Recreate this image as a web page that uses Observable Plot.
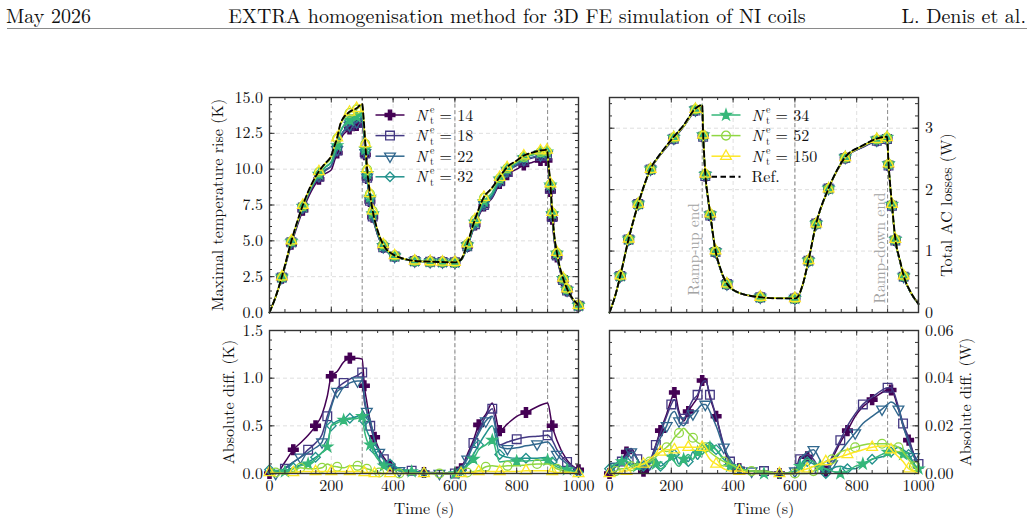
<!DOCTYPE html>
<html>
<head>
<meta charset="utf-8">
<script src="https://cdn.jsdelivr.net/npm/d3@7"></script>
<script src="https://cdn.jsdelivr.net/npm/@observablehq/plot@0.6"></script>
<style>
  body { margin: 0; background: #fff; }
  #page { position: relative; width: 1034px; height: 523px; font-family: 'Latin Modern Roman', 'Liberation Serif', serif; color: #111; }
  .hdr { position: absolute; top: 2px; font-size: 20px; line-height: 26px; white-space: nowrap; }
  .rule { position: absolute; left: 7px; right: 7px; top: 28px; border-top: 1px solid #8a8a8a; }
  .panel { position: absolute; }
  .panel svg { overflow: visible; }
</style>
</head>
<body>
<div id="page">
  <div class="hdr" style="left:6px">May 2026</div>
  <div class="hdr" style="left:0;width:1034px;text-align:center">EXTRA homogenisation method for 3D FE simulation of NI coils</div>
  <div class="hdr" style="right:8px">L. Denis et al.</div>
  <div class="rule"></div>
</div>
<script>
// ---- series definitions -------------------------------------------------
const seriesN = [14, 18, 22, 32, 34, 52, 150];
const eventTimes = [300, 600, 900];

// ---- maximal temperature rise (K) ---------------------------------------
const timeTemp = [0, 20, 40, 71, 108, 135, 160, 180, 200, 210, 219, 230, 259, 282, 300, 305, 310, 316, 325, 334, 350, 368, 405, 435, 470, 520, 560, 600, 620, 640, 665, 694, 720, 745, 769, 800, 823, 850, 877, 898, 903, 909, 915, 922, 930, 936, 950, 963, 980, 1000];
const tempRef = [0, 1.1, 2.5, 5.0, 7.5, 8.9, 9.85, 10.4, 10.95, 11.6, 12.2, 13.2, 14.0, 14.25, 14.55, 13.4, 11.8, 10.0, 8.3, 7.1, 5.7, 4.75, 3.98, 3.75, 3.6, 3.55, 3.52, 3.5, 3.7, 4.8, 6.5, 8.05, 8.7, 9.45, 10.14, 10.6, 10.95, 11.15, 11.3, 11.35, 10.3, 9.0, 7.0, 5.3, 4.2, 3.5, 2.4, 1.65, 1.0, 0.5];
const temp14 = [0, 1.1, 2.4, 4.77, 7.13, 8.45, 9.3, 9.68, 9.95, 10.55, 11.13, 12.08, 12.8, 13.05, 13.35, 12.4, 11.0, 9.35, 7.75, 6.65, 5.4, 4.55, 3.93, 3.73, 3.59, 3.54, 3.52, 3.5, 3.65, 4.6, 6.1, 7.43, 7.96, 9.0, 9.62, 10.0, 10.3, 10.47, 10.6, 10.61, 9.65, 8.45, 6.5, 4.9, 3.88, 3.23, 2.2, 1.51, 0.92, 0.46];
const temp18 = [0, 1.1, 2.45, 4.9, 7.33, 8.62, 9.47, 9.88, 10.23, 10.8, 11.31, 12.27, 13.02, 13.22, 13.49, 12.55, 11.1, 9.4, 7.8, 6.7, 5.42, 4.55, 3.9, 3.72, 3.59, 3.54, 3.52, 3.5, 3.65, 4.62, 6.15, 7.5, 8.02, 9.15, 9.81, 10.25, 10.58, 10.77, 10.91, 10.95, 9.93, 8.65, 6.67, 5.02, 3.98, 3.32, 2.26, 1.54, 0.94, 0.47];
const temp22 = [0, 1.1, 2.45, 4.9, 7.33, 8.65, 9.52, 9.95, 10.25, 10.82, 11.35, 12.32, 13.05, 13.28, 13.58, 12.6, 11.14, 9.44, 7.84, 6.74, 5.45, 4.58, 3.91, 3.73, 3.59, 3.54, 3.52, 3.5, 3.65, 4.65, 6.2, 7.55, 8.1, 9.17, 9.88, 10.33, 10.66, 10.84, 10.98, 11.02, 10.0, 8.73, 6.75, 5.1, 4.04, 3.36, 2.29, 1.56, 0.95, 0.48];
const temp32 = [0, 1.1, 2.47, 4.95, 7.4, 8.75, 9.65, 10.14, 10.5, 11.1, 11.65, 12.64, 13.42, 13.65, 13.92, 12.8, 11.3, 9.58, 7.97, 6.85, 5.53, 4.63, 3.93, 3.73, 3.59, 3.54, 3.52, 3.5, 3.67, 4.68, 6.25, 7.65, 8.2, 9.25, 9.97, 10.45, 10.8, 10.99, 11.13, 11.18, 10.16, 8.88, 6.9, 5.22, 4.13, 3.44, 2.35, 1.61, 0.97, 0.49];
const temp34 = [0, 1.1, 2.47, 4.95, 7.4, 8.75, 9.65, 10.12, 10.5, 11.08, 11.65, 12.64, 13.43, 13.67, 13.95, 12.9, 11.4, 9.7, 8.05, 6.9, 5.57, 4.65, 3.94, 3.73, 3.59, 3.55, 3.52, 3.5, 3.68, 4.7, 6.3, 7.75, 8.35, 9.33, 10.01, 10.47, 10.82, 11.01, 11.16, 11.21, 10.18, 8.9, 6.92, 5.23, 4.14, 3.45, 2.36, 1.62, 0.98, 0.49];
const temp52 = [0, 1.1, 2.48, 4.97, 7.43, 8.84, 9.8, 10.32, 10.85, 11.52, 12.13, 13.14, 13.92, 14.17, 14.48, 13.35, 11.76, 9.97, 8.28, 7.09, 5.7, 4.75, 3.98, 3.75, 3.6, 3.55, 3.52, 3.5, 3.69, 4.78, 6.47, 8.0, 8.63, 9.37, 10.06, 10.52, 10.86, 11.05, 11.2, 11.25, 10.22, 8.94, 6.95, 5.26, 4.17, 3.48, 2.38, 1.64, 0.99, 0.5];
const temp150 = [0, 1.1, 2.5, 5.0, 7.49, 8.89, 9.84, 10.39, 10.94, 11.59, 12.19, 13.19, 13.99, 14.24, 14.54, 13.39, 11.79, 9.99, 8.3, 7.1, 5.7, 4.75, 3.98, 3.75, 3.6, 3.55, 3.52, 3.5, 3.7, 4.8, 6.49, 8.04, 8.68, 9.43, 10.12, 10.58, 10.93, 11.13, 11.28, 11.33, 10.29, 8.99, 6.99, 5.3, 4.2, 3.5, 2.4, 1.65, 1.0, 0.5];
const markTimesTemp = [40, 71, 108, 160, 219, 259, 282, 310, 316, 325, 334, 368, 405, 470, 520, 560, 600, 640, 665, 694, 745, 769, 823, 877, 898, 909, 915, 930, 950, 963, 1000];

// ---- total AC losses (W) ------------------------------------------------
const timeLoss = [0, 20, 35, 62, 93, 133, 170, 208, 240, 278, 300, 303, 306, 310, 318, 326, 343, 360, 380, 420, 488, 550, 600, 610, 625, 644, 669, 709, 763, 820, 865, 898, 903, 908, 914, 925, 940, 952, 975, 1000];
const lossRef = [0, 0.3, 0.6, 1.2, 1.77, 2.34, 2.62, 2.86, 3.05, 3.32, 3.38, 2.9, 2.6, 2.26, 1.9, 1.61, 1.01, 0.7, 0.47, 0.32, 0.25, 0.23, 0.23, 0.26, 0.45, 0.85, 1.45, 2.02, 2.53, 2.72, 2.83, 2.86, 2.43, 2.1, 1.77, 1.2, 0.85, 0.6, 0.33, 0.14];
const loss14 = [0, 0.298, 0.595, 1.19, 1.766, 2.33, 2.6, 2.827, 3.028, 3.288, 3.341, 2.86, 2.56, 2.222, 1.865, 1.578, 0.986, 0.685, 0.462, 0.318, 0.249, 0.23, 0.23, 0.257, 0.443, 0.843, 1.447, 2.018, 2.516, 2.692, 2.797, 2.825, 2.394, 2.065, 1.737, 1.173, 0.83, 0.585, 0.321, 0.136];
const loss18 = [0, 0.298, 0.595, 1.19, 1.765, 2.33, 2.602, 2.829, 3.027, 3.287, 3.342, 2.861, 2.561, 2.223, 1.866, 1.579, 0.986, 0.686, 0.463, 0.318, 0.249, 0.23, 0.23, 0.256, 0.442, 0.843, 1.447, 2.017, 2.515, 2.691, 2.796, 2.824, 2.394, 2.064, 1.736, 1.172, 0.83, 0.584, 0.321, 0.136];
const loss22 = [0, 0.298, 0.596, 1.191, 1.767, 2.332, 2.605, 2.835, 3.03, 3.295, 3.351, 2.871, 2.571, 2.233, 1.874, 1.586, 0.99, 0.689, 0.464, 0.319, 0.249, 0.23, 0.229, 0.255, 0.441, 0.84, 1.444, 2.019, 2.522, 2.699, 2.805, 2.831, 2.4, 2.071, 1.742, 1.176, 0.832, 0.587, 0.323, 0.136];
const loss32 = [0, 0.296, 0.595, 1.197, 1.768, 2.335, 2.614, 2.852, 3.043, 3.311, 3.37, 2.888, 2.587, 2.247, 1.887, 1.599, 1.0, 0.694, 0.466, 0.319, 0.25, 0.23, 0.229, 0.256, 0.446, 0.845, 1.448, 2.02, 2.527, 2.716, 2.824, 2.852, 2.42, 2.089, 1.76, 1.19, 0.842, 0.592, 0.326, 0.138];
const loss34 = [0, 0.296, 0.595, 1.196, 1.767, 2.336, 2.616, 2.853, 3.044, 3.311, 3.372, 2.89, 2.59, 2.25, 1.89, 1.6, 1.0, 0.694, 0.467, 0.319, 0.25, 0.23, 0.229, 0.257, 0.444, 0.844, 1.448, 2.018, 2.53, 2.716, 2.824, 2.851, 2.421, 2.091, 1.761, 1.191, 0.842, 0.593, 0.325, 0.138];
const loss52 = [0, 0.299, 0.598, 1.197, 1.766, 2.334, 2.611, 2.847, 3.031, 3.307, 3.368, 2.889, 2.59, 2.252, 1.894, 1.604, 1.005, 0.696, 0.467, 0.319, 0.25, 0.23, 0.23, 0.26, 0.45, 0.849, 1.446, 2.015, 2.521, 2.708, 2.817, 2.848, 2.418, 2.088, 1.759, 1.19, 0.843, 0.594, 0.327, 0.139];
const loss150 = [0, 0.3, 0.599, 1.198, 1.767, 2.332, 2.611, 2.85, 3.039, 3.309, 3.369, 2.891, 2.593, 2.255, 1.897, 1.607, 1.007, 0.698, 0.469, 0.319, 0.25, 0.23, 0.23, 0.26, 0.448, 0.847, 1.446, 2.014, 2.522, 2.71, 2.819, 2.849, 2.42, 2.091, 1.762, 1.193, 0.847, 0.597, 0.329, 0.14];
const markTimesLoss = [35, 62, 93, 133, 208, 278, 303, 310, 326, 343, 380, 488, 600, 644, 669, 709, 763, 865, 898, 903, 914, 925, 952];

// ---- absolute difference to the reference, temperature (K) -------------
const timeDiffK = [0, 20, 50, 77, 100, 125, 149, 170, 187, 200, 219, 240, 260, 285, 300, 307, 315, 326, 340, 355, 370, 390, 420, 460, 500, 550, 600, 620, 640, 660, 677, 700, 721, 745, 770, 800, 830, 866, 900, 915, 930, 963, 1000];
const diffK14 = [0, 0, 0.12, 0.25, 0.32, 0.4, 0.5, 0.62, 0.81, 1.02, 1.07, 1.17, 1.21, 1.21, 1.2, 0.92, 0.75, 0.55, 0.38, 0.25, 0.17, 0.08, 0.03, 0.01, 0.01, 0, 0, 0.05, 0.2, 0.35, 0.51, 0.62, 0.74, 0.45, 0.52, 0.6, 0.64, 0.7, 0.74, 0.5, 0.35, 0.14, 0.04];
const diffK18 = [0.02, 0, 0.05, 0.12, 0.17, 0.25, 0.32, 0.41, 0.6, 0.72, 0.89, 0.95, 0.99, 1.03, 1.06, 0.75, 0.65, 0.5, 0.35, 0.23, 0.15, 0.1, 0.04, 0.03, 0.01, 0.01, 0, 0.05, 0.18, 0.32, 0.45, 0.6, 0.68, 0.3, 0.33, 0.36, 0.38, 0.39, 0.4, 0.35, 0.25, 0.12, 0.03];
const diffK22 = [0.02, 0, 0.06, 0.12, 0.17, 0.22, 0.27, 0.33, 0.55, 0.7, 0.86, 0.9, 0.95, 0.97, 0.97, 0.8, 0.65, 0.56, 0.35, 0.22, 0.14, 0.08, 0.03, 0.02, 0.01, 0, 0, 0.05, 0.15, 0.3, 0.42, 0.55, 0.6, 0.28, 0.26, 0.27, 0.29, 0.31, 0.33, 0.28, 0.2, 0.1, 0.02];
const diffK32 = [0.04, 0.02, 0.03, 0.06, 0.09, 0.12, 0.17, 0.22, 0.3, 0.5, 0.55, 0.57, 0.58, 0.6, 0.63, 0.55, 0.45, 0.37, 0.25, 0.15, 0.1, 0.1, 0.05, 0.02, 0.01, 0, 0, 0.03, 0.1, 0.2, 0.3, 0.42, 0.5, 0.2, 0.17, 0.16, 0.16, 0.16, 0.17, 0.12, 0.09, 0.05, 0.01];
const diffK34 = [0.05, 0.03, 0.02, 0.05, 0.08, 0.1, 0.15, 0.22, 0.28, 0.5, 0.53, 0.56, 0.57, 0.58, 0.6, 0.45, 0.35, 0.3, 0.2, 0.13, 0.08, 0.05, 0.03, 0.02, 0, 0, 0, 0.02, 0.08, 0.15, 0.25, 0.3, 0.35, 0.12, 0.13, 0.13, 0.13, 0.14, 0.14, 0.1, 0.07, 0.04, 0.01];
const diffK52 = [0.02, 0.01, 0, 0.02, 0.06, 0.05, 0.05, 0.06, 0.1, 0.08, 0.07, 0.06, 0.08, 0.08, 0.07, 0.06, 0.05, 0.04, 0.02, 0.01, 0, 0, 0, 0, 0, 0, 0, 0, 0.01, 0.02, 0.03, 0.07, 0.08, 0.07, 0.08, 0.08, 0.09, 0.1, 0.1, 0.08, 0.05, 0.02, 0];
const diffK150 = [0.01, 0, 0, 0.01, 0.02, 0.02, 0.02, 0.02, 0.02, 0.02, 0.02, 0.02, 0.02, 0.02, 0.02, 0.01, 0.01, 0.01, 0, 0, 0, 0, 0, 0, 0, 0, 0, 0, 0.01, 0.01, 0.02, 0.02, 0.02, 0.02, 0.02, 0.02, 0.03, 0.03, 0.03, 0.02, 0.01, 0.01, 0];

// ---- absolute difference to the reference, losses (W) ------------------
const timeDiffW = [0, 20, 40, 55, 70, 90, 110, 130, 150, 165, 185, 200, 210, 225, 240, 255, 270, 285, 300, 310, 325, 345, 370, 390, 420, 460, 500, 550, 600, 617, 640, 660, 680, 700, 720, 747, 770, 795, 820, 850, 882, 900, 911, 935, 950, 968, 985, 1000];
const diffW14 = [0, 0.003, 0.006, 0.009, 0.0105, 0.006, 0.001, 0.004, 0.012, 0.018, 0.025, 0.031, 0.034, 0.026, 0.022, 0.026, 0.029, 0.032, 0.039, 0.040, 0.032, 0.024, 0.011, 0.004, 0.002, 0.001, 0.001, 0, 0, 0.007, 0.007, 0.005, 0.002, 0.001, 0.006, 0.013, 0.018, 0.024, 0.028, 0.031, 0.034, 0.035, 0.035, 0.027, 0.02, 0.014, 0.008, 0.004];
const diffW18 = [0, 0.003, 0.005, 0.008, 0.01, 0.006, 0.002, 0.005, 0.012, 0.017, 0.024, 0.029, 0.031, 0.025, 0.023, 0.027, 0.031, 0.033, 0.038, 0.039, 0.033, 0.024, 0.012, 0.005, 0.002, 0.001, 0.001, 0, 0, 0.006, 0.008, 0.006, 0.002, 0.001, 0.007, 0.014, 0.02, 0.025, 0.029, 0.032, 0.035, 0.036, 0.036, 0.028, 0.021, 0.015, 0.008, 0.004];
const diffW22 = [0, 0.003, 0.005, 0.007, 0.009, 0.006, 0.002, 0.004, 0.01, 0.015, 0.02, 0.025, 0.026, 0.022, 0.02, 0.023, 0.025, 0.027, 0.029, 0.029, 0.026, 0.02, 0.011, 0.006, 0.002, 0.001, 0.001, 0, 0.001, 0.006, 0.009, 0.01, 0.006, 0.001, 0.004, 0.009, 0.013, 0.017, 0.021, 0.024, 0.027, 0.029, 0.03, 0.027, 0.02, 0.013, 0.007, 0.004];
const diffW32 = [0.002, 0.004, 0.006, 0.005, 0.003, 0.002, 0.003, 0.005, 0.006, 0.003, 0.005, 0.006, 0.008, 0.004, 0.007, 0.005, 0.009, 0.006, 0.01, 0.012, 0.013, 0.01, 0.006, 0.004, 0.002, 0.001, 0, 0, 0.001, 0.004, 0.005, 0.004, 0.002, 0, 0.002, 0.003, 0.002, 0.002, 0.004, 0.006, 0.007, 0.008, 0.009, 0.011, 0.01, 0.008, 0.004, 0.002];
const diffW34 = [0.003, 0.004, 0.005, 0.005, 0.004, 0.003, 0.004, 0.006, 0.004, 0.002, 0.004, 0.007, 0.005, 0.003, 0.006, 0.008, 0.006, 0.009, 0.008, 0.01, 0.011, 0.01, 0.006, 0.003, 0.002, 0.001, 0, 0, 0.001, 0.003, 0.006, 0.005, 0.003, 0.002, 0.001, 0, 0.001, 0.003, 0.004, 0.006, 0.008, 0.009, 0.009, 0.009, 0.008, 0.007, 0.004, 0.002];
const diffW52 = [0, 0.001, 0.002, 0.002, 0.003, 0.004, 0.004, 0.005, 0.007, 0.009, 0.011, 0.013, 0.015, 0.017, 0.019, 0.017, 0.015, 0.013, 0.012, 0.011, 0.009, 0.007, 0.005, 0.004, 0.002, 0.001, 0.001, 0, 0, 0, 0, 0.001, 0.003, 0.005, 0.006, 0.009, 0.01, 0.011, 0.012, 0.0125, 0.0125, 0.0125, 0.012, 0.011, 0.009, 0.006, 0.003, 0.001];
const diffW150 = [0, 0, 0.001, 0.001, 0.002, 0.003, 0.004, 0.006, 0.008, 0.009, 0.01, 0.01, 0.01, 0.011, 0.011, 0.011, 0.011, 0.011, 0.011, 0.009, 0.006, 0.004, 0.002, 0.001, 0.001, 0, 0, 0, 0, 0.001, 0.002, 0.003, 0.004, 0.005, 0.006, 0.007, 0.008, 0.009, 0.01, 0.011, 0.0115, 0.0115, 0.01, 0.007, 0.005, 0.002, 0.001, 0];

// ---- styling -------------------------------------------------------------
const seriesColor = ["#440154", "#443983", "#31688e", "#21918c", "#35b779", "#90d743", "#fde725"];
const triangleDown = {
  draw(context, size) {
    const y = -Math.sqrt(size / (Math.sqrt(3) * 3));
    context.moveTo(0, -y * 2);
    context.lineTo(-Math.sqrt(3) * y, y);
    context.lineTo(Math.sqrt(3) * y, y);
    context.closePath();
  }
};
const seriesSymbol = [d3.symbolCross, d3.symbolSquare, triangleDown, d3.symbolDiamond2, d3.symbolStar, d3.symbolCircle, d3.symbolTriangle];
const seriesR = [4.1, 4.9, 4.0, 4.3, 3.3, 4.4, 4.0];
const seriesFilled = [true, false, false, false, true, false, false];
const FONT = "'Latin Modern Roman', 'Liberation Serif', serif";

function seriesLayers(times, valuesList, refValues, markFn, curve) {
  const layers = [];
  valuesList.forEach((vals, k) => {
    const rows = times.map((t, i) => ({t, v: vals[i], i}));
    layers.push(Plot.line(rows, {x: "t", y: "v", stroke: seriesColor[k], strokeWidth: 1.5, curve}));
    layers.push(Plot.dot(rows.filter(d => markFn(d, k)), {
      x: "t", y: "v", symbol: seriesSymbol[k], r: seriesR[k],
      fill: seriesFilled[k] ? seriesColor[k] : "none",
      stroke: seriesColor[k], strokeWidth: 1.3
    }));
  });
  if (refValues) {
    const rows = times.map((t, i) => ({t, v: refValues[i]}));
    layers.push(Plot.line(rows, {x: "t", y: "v", stroke: "#000", strokeWidth: 1.9, strokeDasharray: "5.5,3.5", curve}));
  }
  return layers;
}

function panel(cfg) {
  const innerW = cfg.width - cfg.ml - cfg.mr;
  const innerH = cfg.height - cfg.mt - cfg.mb;
  const xMajor = d3.range(0, 6).map(i => i * 200);
  const xMinor = d3.range(0, 21).map(i => i * 50);
  const [y0, y1] = cfg.yDomain;
  const tickStyle = {stroke: "#333", strokeWidth: 1};
  const marks = [
    Plot.ruleX(xMajor.filter(v => v > 0 && v < 1000), {x: d => d, stroke: "#d6d6d6", strokeWidth: 0.8, strokeDasharray: "4,3"}),
    Plot.ruleY(cfg.yMajor.filter(v => v > y0 && v < y1 - 1e-9), {y: d => d, stroke: "#d6d6d6", strokeWidth: 0.8, strokeDasharray: "4,3"}),
    Plot.ruleX(eventTimes, {x: d => d, stroke: "#7d7d7d", strokeWidth: 0.9, strokeDasharray: "4,2.5"}),
    ...(cfg.before || []),
    ...cfg.layers,
    Plot.tickX(xMinor, {x: d => d, insetTop: innerH - 3, ...tickStyle}),
    Plot.tickX(xMinor, {x: d => d, insetBottom: innerH - 3, ...tickStyle}),
    Plot.tickX(xMajor, {x: d => d, insetTop: innerH - 5.5, ...tickStyle}),
    Plot.tickX(xMajor, {x: d => d, insetBottom: innerH - 5.5, ...tickStyle}),
    Plot.tickY(cfg.yMinor, {y: d => d, insetRight: innerW - 3, ...tickStyle}),
    Plot.tickY(cfg.yMinor, {y: d => d, insetLeft: innerW - 3, ...tickStyle}),
    Plot.tickY(cfg.yMajor, {y: d => d, insetRight: innerW - 5.5, ...tickStyle}),
    Plot.tickY(cfg.yMajor, {y: d => d, insetLeft: innerW - 5.5, ...tickStyle}),
    Plot.frame({stroke: "#333", strokeWidth: 1.4}),
    Plot.axisY({ticks: cfg.yMajor, anchor: cfg.yAnchor, tickSize: 0, tickPadding: 6.5, tickFormat: cfg.yFormat, label: null, fontSize: 16, fill: "#111"}),
    Plot.text([cfg.yLabel], {
      text: d => d, frameAnchor: cfg.yAnchor, dx: cfg.yLabelDx, rotate: -90,
      textAnchor: "middle", lineAnchor: "middle", fontSize: 16, fill: "#111"
    })
  ];
  if (cfg.xAxis) {
    marks.push(Plot.axisX({ticks: xMajor, anchor: "bottom", tickSize: 0, tickPadding: 6, tickFormat: d3.format("d"), label: null, fontSize: 16, fill: "#111"}));
    marks.push(Plot.text(["Time (s)"], {text: d => d, frameAnchor: "bottom", dy: 35, lineAnchor: "middle", fontSize: 16, fill: "#111"}));
  }
  if (cfg.after) marks.push(...cfg.after);
  const svg = Plot.plot({
    width: cfg.width, height: cfg.height,
    marginLeft: cfg.ml, marginRight: cfg.mr, marginTop: cfg.mt, marginBottom: cfg.mb,
    x: {domain: [0, 1000], axis: null},
    y: {domain: cfg.yDomain, axis: null},
    style: {fontFamily: FONT, fontSize: "16px", color: "#111", background: "transparent", overflow: "visible"},
    marks
  });
  const holder = document.createElement("div");
  holder.className = "panel";
  holder.style.left = cfg.left + "px";
  holder.style.top = cfg.top + "px";
  holder.appendChild(svg);
  document.getElementById("page").appendChild(holder);
  return svg;
}

// Legend rows: sample line with marker, then the N_t^e label
function addLegend(svg, x0, y0, entries) {
  const g = d3.select(svg).append("g")
    .attr("font-family", FONT).attr("font-size", 16).attr("fill", "#111").attr("text-anchor", "start");
  entries.forEach((e, i) => {
    const row = g.append("g").attr("transform", `translate(${x0},${y0 + i * 20.6})`);
    if (e.ref) {
      row.append("line").attr("x1", 0).attr("x2", 29).attr("stroke", "#000").attr("stroke-width", 1.9).attr("stroke-dasharray", "5.5,3.5");
      row.append("text").attr("x", 40).attr("y", 5.5).text("Ref.");
      return;
    }
    const k = seriesN.indexOf(e.n);
    row.append("line").attr("x1", 0).attr("x2", 29).attr("stroke", seriesColor[k]).attr("stroke-width", 1.5);
    row.append("path")
      .attr("transform", "translate(14.5,0)")
      .attr("d", d3.symbol(seriesSymbol[k], seriesR[k] * seriesR[k] * Math.PI)())
      .attr("fill", seriesFilled[k] ? seriesColor[k] : "none")
      .attr("stroke", seriesColor[k]).attr("stroke-width", 1.3);
    row.append("text").attr("x", 40).attr("y", 5.5).attr("font-style", "italic").text("N");
    row.append("text").attr("x", 54.5).attr("y", -2.5).attr("font-size", 10).text("e");
    row.append("text").attr("x", 54.5).attr("y", 9).attr("font-size", 10).text("t");
    row.append("text").attr("x", 64).attr("y", 5.5).text("= " + e.n);
  });
}

// ---- panels ----------------------------------------------------------------
const markTemp = d => markTimesTemp.includes(d.t);
const markLoss = d => markTimesLoss.includes(d.t);
const markDiff = (d, k) => (d.i + k) % 3 === 0;

const topLeft = panel({
  left: 180, top: 85, width: 410, height: 240, ml: 89, mr: 12, mt: 12, mb: 13,
  yDomain: [0, 15], yMajor: d3.range(0, 7).map(i => i * 2.5), yMinor: d3.range(0, 31).map(i => i * 0.5),
  yFormat: d3.format(".1f"), yAnchor: "left", yLabel: "Maximal temperature rise (K)", yLabelDx: -51.5,
  layers: seriesLayers(timeTemp, [temp14, temp18, temp22, temp32, temp34, temp52, temp150], tempRef, markTemp, "monotone-x")
});
addLegend(topLeft, 195.5, 30, [{n: 14}, {n: 18}, {n: 22}, {n: 32}]);

const rampLabels = [{t: 300, text: "Ramp-up end"}, {t: 900, text: "Ramp-down end"}];
const topRight = panel({
  left: 598, top: 85, width: 400, height: 240, ml: 11, mr: 80, mt: 12, mb: 13,
  yDomain: [0, 3.5], yMajor: [0, 1, 2, 3], yMinor: d3.range(0, 18).map(i => i * 0.2),
  yFormat: d3.format("d"), yAnchor: "right", yLabel: "Total AC losses (W)", yLabelDx: 28.5,
  before: [
    Plot.text(rampLabels.slice(0, 1), {x: "t", text: "text", frameAnchor: "bottom", dy: -17, dx: -3, rotate: -90, textAnchor: "start", lineAnchor: "bottom", fill: "#a3a3a3", fontSize: 15.5}),
    Plot.text(rampLabels.slice(1), {x: "t", text: "text", frameAnchor: "bottom", dy: -9, dx: -3, rotate: -90, textAnchor: "start", lineAnchor: "bottom", fill: "#a3a3a3", fontSize: 15.5})
  ],
  layers: seriesLayers(timeLoss, [loss14, loss18, loss22, loss32, loss34, loss52, loss150], lossRef, markLoss, "monotone-x")
});
addLegend(topRight, 113.5, 30, [{n: 34}, {n: 52}, {n: 150}, {ref: true}]);

panel({
  left: 180, top: 318, width: 410, height: 205, ml: 89, mr: 12, mt: 12, mb: 50,
  yDomain: [0, 1.5], yMajor: [0, 0.5, 1.0, 1.5], yMinor: d3.range(0, 16).map(i => i * 0.1),
  yFormat: d3.format(".1f"), yAnchor: "left", yLabel: "Absolute diff. (K)", yLabelDx: -40.5, xAxis: true,
  layers: seriesLayers(timeDiffK, [diffK14, diffK18, diffK22, diffK32, diffK34, diffK52, diffK150], null, markDiff, "monotone-x")
});

panel({
  left: 598, top: 318, width: 400, height: 205, ml: 11, mr: 80, mt: 12, mb: 50,
  yDomain: [0, 0.06], yMajor: [0, 0.02, 0.04, 0.06], yMinor: d3.range(0, 13).map(i => i * 0.005),
  yFormat: d3.format(".2f"), yAnchor: "right", yLabel: "Absolute diff. (W)", yLabelDx: 47, xAxis: true,
  layers: seriesLayers(timeDiffW, [diffW14, diffW18, diffW22, diffW32, diffW34, diffW52, diffW150], null, markDiff, "monotone-x")
});
</script>
</body>
</html>
